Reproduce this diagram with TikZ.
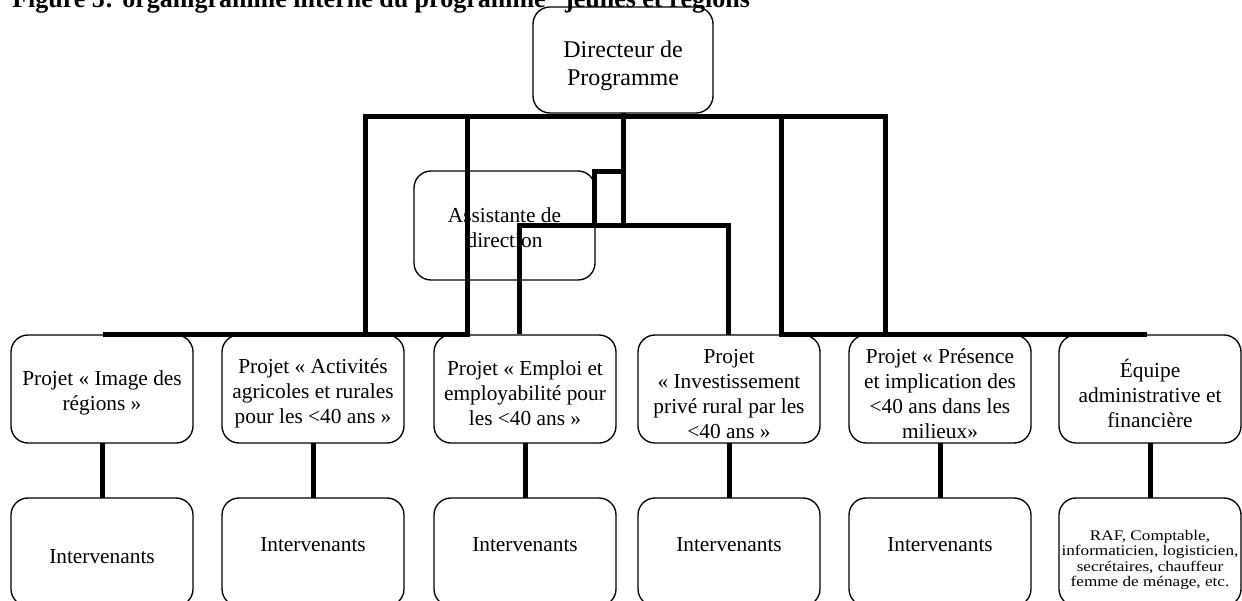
\documentclass[tikz,border=0pt]{standalone}
\usepackage{fontspec}
\setmainfont{Liberation Serif}
\newfontfamily\stretchfont[FakeStretch=1.17]{Liberation Serif}
\begin{document}
\begin{tikzpicture}[x=0.75pt,y=-0.75pt,
  box/.style={draw, line width=1pt, rounded corners=12.75pt, minimum width=136.5pt,
    minimum height=81pt, inner sep=0pt, outer sep=0pt},
  conn/.style={line width=3.75pt, line join=miter, line cap=butt},
  txt/.style={inner sep=0pt, align=center, font=\fontsize{16}{18.75}\selectfont}]
\useasboundingbox (0,0) rectangle (1242,600);
\clip (0,0) rectangle (1242,600);

% title (cut at the top, as in the reference)
\node[anchor=base west, inner sep=0pt, font=\fontsize{19.5}{22}\selectfont\bfseries] (title) at (12,7)
  {Figure 5: organigramme interne du programme "jeunes et régions"};

% boxes
\node[box, minimum width=135pt, minimum height=79.5pt] (dir) at (623,60) {};
\node[txt, font=\fontsize{18}{21}\selectfont] (dirt) at (623,66) {Directeur de\\Programme};
\node[box, minimum width=135.75pt, minimum height=81.75pt] (asst) at (504.5,225.5) {};
\node[txt] (asstt) at (504.5,228) {Assistante de\\direction};

\node[box] (p1) at (102,389) {};
\node[box] (p2) at (313,389) {};
\node[box] (p3) at (525,389) {};
\node[box] (p4) at (729,389) {};
\node[box] (p5) at (940,389) {};
\node[box] (p6) at (1150,389) {};
\node[txt] (pt1) at (102,393) {Projet « Image des\\régions »};
\node[txt] (pt2) at (313,393) {Projet « Activités\\agricoles et rurales\\pour les <40 ans »};
\node[txt] (pt3) at (525,393) {Projet « Emploi et\\employabilité pour\\les <40 ans »};
\node[txt] (pt4) at (729,394) {Projet\\« Investissement\\privé rural par les\\<40 ans »};
\node[txt] (pt5) at (940,394) {Projet « Présence\\et implication des\\<40 ans dans les\\milieux»};
\node[txt] (pt6) at (1150,393) {Équipe\\administrative et\\financière};

\node[box] (i1) at (102,552) {};
\node[box] (i2) at (313,552) {};
\node[box] (i3) at (525,552) {};
\node[box] (i4) at (729,552) {};
\node[box] (i5) at (940,552) {};
\node[box] (i6) at (1150,552) {};
\node[txt] (t1) at (102,557) {Intervenants};
\node[txt] (t2) at (313,545) {Intervenants};
\node[txt] (t3) at (525,545) {Intervenants};
\node[txt] (t4) at (729,545) {Intervenants};
\node[txt] (t5) at (940,545) {Intervenants};
\node[txt, font=\stretchfont\fontsize{11}{11.5}\selectfont] (t6) at (1150,560)
  {RAF, Comptable,\\informaticien, logisticien,\\secrétaires, chauffeur\\femme de ménage, etc.};

% junction points
\coordinate (L0) at (103,334);
\coordinate (L1) at (365,334);
\coordinate (L2) at (467,334);
\coordinate (T1) at (365,116.5);
\coordinate (T2) at (467,116.5);
\coordinate (T3) at (781.5,116.5);
\coordinate (T4) at (885,116.5);
\coordinate (R1) at (781.5,334);
\coordinate (R2) at (885,334);
\coordinate (R3) at (1147,334);
\coordinate (C1) at (623,171);
\coordinate (C2) at (594.5,171);
\coordinate (C3) at (594.5,225.5);
\coordinate (C4) at (623,225.5);
\coordinate (H1) at (519.5,225.5);
\coordinate (H2) at (728.5,225.5);
\coordinate (H1b) at (519.5,334);
\coordinate (H2b) at (728.5,335);

% connectors
\draw[conn] (L0) -- (L2) -- (T2);
\draw[conn] (L1) -- (T1) -- (T4) -- (R2);
\draw[conn] (R3) -- (R1) -- (T3);
\draw[conn] (dir.south) -- (C4);
\draw[conn] (C1) -- (C2) -- (C3);
\draw[conn] (H1b) -- (H1) -- (H2) -- (H2b);
\foreach \k in {1,...,6} {
  \draw[conn] (p\k.south) -- (i\k.north);
}
\end{tikzpicture}
\end{document}
